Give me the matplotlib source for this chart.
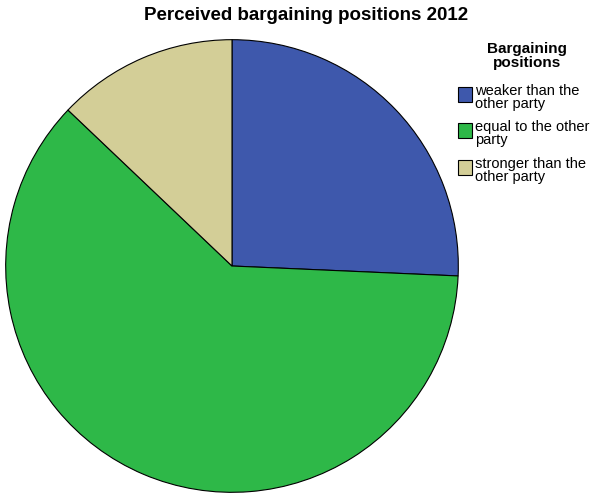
import matplotlib
matplotlib.use("Agg")
import matplotlib.pyplot as plt
from matplotlib.patches import Rectangle

plt.rcParams['font.family'] = ['Liberation Sans', 'DejaVu Sans']

categories = ["weaker than the\nother party", "equal to the other\nparty", "stronger than the\nother party"]
values = [25.7, 61.4, 12.9]
colors = ["#3E58AC", "#2EB848", "#D3CE97"]

W, H = 594, 493
fig = plt.figure(figsize=(W / 100, H / 100), dpi=100)
cx, cy, r = 232, 266, 227
ax = fig.add_axes([(cx - r) / W, (H - cy - r) / H, 2 * r / W, 2 * r / H])
ax.pie(values, colors=colors, startangle=90, counterclock=False, radius=1,
       wedgeprops=dict(edgecolor="black", linewidth=0.8))
ax.set_xlim(-1.003, 1.003)
ax.set_ylim(-1.003, 1.003)
ax.set_aspect("equal")
ax.axis("off")

fig.text(306 / W, 1 - 15 / H, "Perceived bargaining positions 2012", ha="center", va="center",
         fontsize=13.5, fontweight="bold")

fig.text(527 / W, 1 - 56 / H, "Bargaining\npositions", ha="center", va="center",
         fontsize=11, fontweight="bold", linespacing=0.95)

tops = [87, 123, 160]
for lab, col, t in zip(categories, colors, tops):
    fig.patches.append(Rectangle((458 / W, 1 - (t + 15) / H), 14 / W, 15 / H,
                                 transform=fig.transFigure, facecolor=col,
                                 edgecolor="black", linewidth=0.8))
    fig.text(475 / W, 1 - (t - 3) / H, lab, ha="left", va="top", fontsize=10.5,
             linespacing=0.88)

fig.savefig("out.png", dpi=100)
